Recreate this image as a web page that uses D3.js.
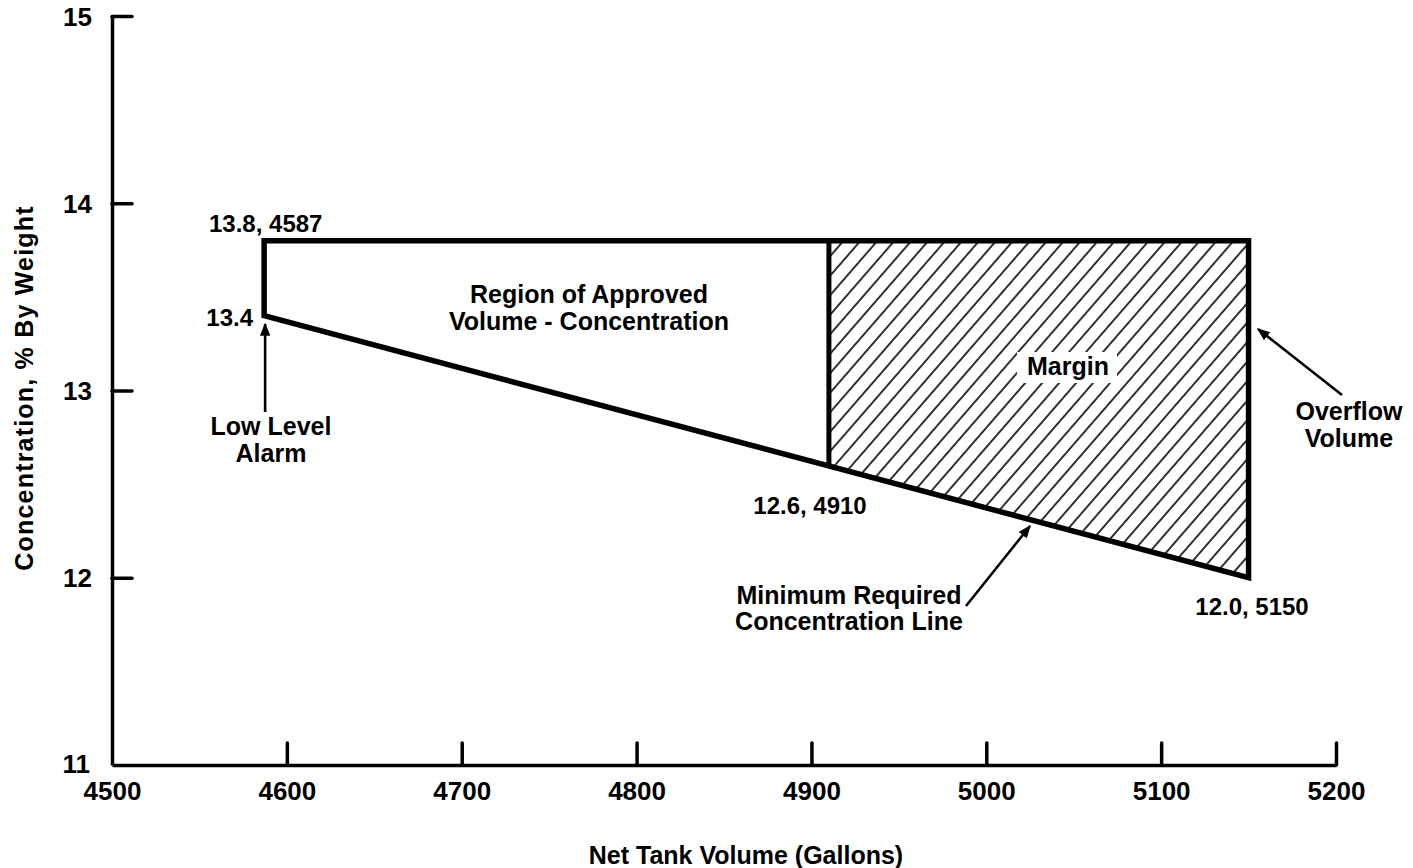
<!DOCTYPE html>
<html>
<head>
<meta charset="utf-8">
<script src="https://cdn.jsdelivr.net/npm/d3@7"></script>
<style>
  body { margin: 0; background: #fff; }
  text { font-family: "Liberation Sans", Arial, sans-serif; font-weight: bold; fill: #000; }
</style>
</head>
<body>
<div id="chart"></div>
<script>
// data
const xTicks = [4500, 4600, 4700, 4800, 4900, 5000, 5100, 5200];
const yTicks = [11, 12, 13, 14, 15];
// outline of approved region: [volume, concentration]
const regionVolume = [4587, 5150, 5150, 4587, 4587];
const regionConc   = [13.8, 13.8, 12.0, 13.4, 13.8];
// margin (hatched) part
const marginVolume = [4910, 5150, 5150, 4910];
const marginConc   = [13.8, 13.8, 12.0, 12.6];
// divider at 4910
const dividerVolume = [4910, 4910];
const dividerConc   = [13.8, 12.6];
// point labels
const pointLabels = ["13.8, 4587", "13.4", "12.6, 4910", "12.0, 5150"];

const W = 1413, H = 868;

const svg = d3.select("#chart").append("svg")
    .attr("width", W)
    .attr("height", H);

const x = d3.scaleLinear().domain([4500, 5200]).range([112, 1336]);
const y = d3.scaleLinear().domain([11, 15]).range([765, 16]);

// hatch pattern
const defs = svg.append("defs");
defs.append("pattern")
    .attr("id", "hatch")
    .attr("patternUnits", "userSpaceOnUse")
    .attr("width", 12.8)
    .attr("height", 12.8)
    .attr("patternTransform", "rotate(41)")
  .append("line")
    .attr("x1", 1).attr("y1", 0)
    .attr("x2", 1).attr("y2", 12.8)
    .attr("stroke", "#000")
    .attr("stroke-width", 1.6);

defs.append("marker")
    .attr("id", "arrow")
    .attr("viewBox", "0 0 10 10")
    .attr("refX", 9).attr("refY", 5)
    .attr("markerWidth", 5).attr("markerHeight", 5)
    .attr("markerUnits", "strokeWidth")
    .attr("orient", "auto")
  .append("path")
    .attr("d", "M0,1 L10,5 L0,9 Z")
    .attr("fill", "#000");

// axes
const xAxis = svg.append("g")
    .attr("transform", `translate(0,${y(11)})`)
    .call(d3.axisBottom(x).tickValues(xTicks).tickFormat(d3.format("d"))
      .tickSize(-22).tickSizeOuter(0).tickPadding(10));
xAxis.select(".domain").attr("stroke-width", 3.5);
xAxis.selectAll(".tick line").attr("stroke-width", 3.5).attr("stroke-linecap", "round")
    .filter(d => d === 4500).remove();
xAxis.selectAll(".tick text").attr("font-size", 26).attr("dy", "0.95em");

const yAxis = svg.append("g")
    .attr("transform", `translate(${x(4500)},0)`)
    .call(d3.axisLeft(y).tickValues(yTicks).tickFormat(d3.format("d"))
      .tickSize(-20).tickSizeOuter(0).tickPadding(20));
yAxis.select(".domain").attr("stroke-width", 3.5);
yAxis.selectAll(".tick line").attr("stroke-width", 3.5).attr("stroke-linecap", "round")
    .filter(d => d === 11).remove();
yAxis.selectAll(".tick text").attr("font-size", 26)
    .attr("x", d => d === 11 ? -22 : -20)
    .attr("dy", d => d === 11 ? "0.3em" : "0.35em");

// axis titles
svg.append("text")
    .attr("x", 746).attr("y", 864)
    .attr("text-anchor", "middle")
    .attr("font-size", 25)
    .text("Net Tank Volume (Gallons)");

svg.append("text")
    .attr("transform", "translate(33,388) rotate(-90)")
    .attr("text-anchor", "middle")
    .attr("font-size", 25)
    .attr("letter-spacing", 1.2)
    .text("Concentration, % By Weight");

const line = d3.line().x(d => x(d[0])).y(d => y(d[1]));

// hatched margin area
svg.append("path")
    .attr("d", line(d3.zip(marginVolume, marginConc)) + "Z")
    .attr("fill", "url(#hatch)");

// region outline
svg.append("path")
    .attr("d", line(d3.zip(regionVolume, regionConc)) + "Z")
    .attr("fill", "none")
    .attr("stroke", "#000")
    .attr("stroke-width", 5.5)
    .attr("stroke-linejoin", "miter");

svg.append("path")
    .attr("d", line(d3.zip(dividerVolume, dividerConc)))
    .attr("stroke", "#000")
    .attr("stroke-width", 5);

// point labels
svg.append("text").attr("x", 209).attr("y", 232).attr("font-size", 24).text(pointLabels[0]);
svg.append("text").attr("x", 253).attr("y", 326).attr("font-size", 24).attr("text-anchor", "end").text(pointLabels[1]);
svg.append("text").attr("x", 810).attr("y", 514).attr("font-size", 24).attr("text-anchor", "middle").text(pointLabels[2]);
svg.append("text").attr("x", 1252).attr("y", 615).attr("font-size", 24).attr("text-anchor", "middle").text(pointLabels[3]);

// annotations
function multiline(cx, by, lines, gap) {
  const t = svg.append("text")
      .attr("x", cx).attr("y", by)
      .attr("text-anchor", "middle")
      .attr("font-size", 25);
  lines.forEach((s, i) => {
    t.append("tspan").attr("x", cx).attr("dy", i === 0 ? 0 : gap).text(s);
  });
}
multiline(589, 303, ["Region of Approved", "Volume - Concentration"], 27);
multiline(271, 435, ["Low Level", "Alarm"], 27);
multiline(1349, 420, ["Overflow", "Volume"], 27);
multiline(849, 604, ["Minimum Required", "Concentration Line"], 26);

// Margin label sits on a white patch cut out of the hatching
svg.append("rect")
    .attr("x", 1017).attr("y", 352)
    .attr("width", 100).attr("height", 31)
    .attr("fill", "#fff");
svg.append("text")
    .attr("x", 1068).attr("y", 375)
    .attr("text-anchor", "middle")
    .attr("font-size", 25)
    .text("Margin");

// arrows
function arrow(x1, y1, x2, y2) {
  svg.append("line")
      .attr("x1", x1).attr("y1", y1)
      .attr("x2", x2).attr("y2", y2)
      .attr("stroke", "#000")
      .attr("stroke-width", 2.6)
      .attr("marker-end", "url(#arrow)");
}
arrow(x(4587) + 1, 412, x(4587) + 1, 324);
arrow(1342, 395, 1258, 329);
arrow(966, 606, 1030, 526);
</script>
</body>
</html>
